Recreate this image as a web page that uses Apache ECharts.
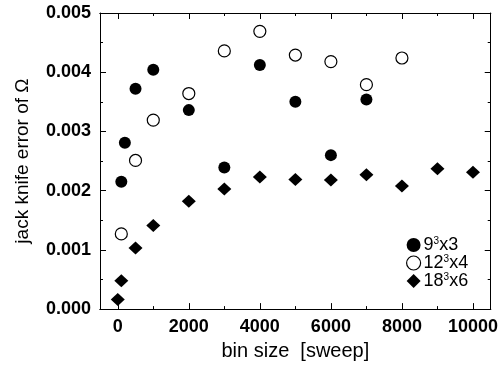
<!DOCTYPE html>
<html><head><meta charset="utf-8">
<script src="https://cdn.jsdelivr.net/npm/echarts@6/dist/echarts.min.js"></script>
<style>html,body{margin:0;padding:0;background:#fff}#c{width:501px;height:366px}</style>
</head><body><div id="c"></div>
<script>
// bin sizes (sweeps)
const x9 = [100, 200, 500, 1000, 2000, 3000, 4000, 5000, 6000, 7000];
const y9 = [0.00215, 0.00281, 0.00372, 0.00404, 0.00336, 0.00239, 0.00412, 0.00350, 0.00260, 0.00354];
const x12 = [100, 500, 1000, 2000, 3000, 4000, 5000, 6000, 7000, 8000];
const y12 = [0.00127, 0.00251, 0.00319, 0.00364, 0.00436, 0.00469, 0.00429, 0.00418, 0.00379, 0.00424];
const x18 = [0, 100, 500, 1000, 2000, 3000, 4000, 5000, 6000, 7000, 8000, 9000, 10000];
const y18 = [0.00016, 0.00048, 0.00103, 0.00141, 0.00182, 0.00203, 0.00223, 0.00219, 0.00218, 0.00227, 0.00208, 0.00237, 0.00231];
const xTicks = [0, 2000, 4000, 6000, 8000, 10000];
const xMinor = [1000, 3000, 5000, 7000, 9000];
const names = ['9^3x3', '12^3x4', '18^3x6'];

const zip = (a, b) => a.map((v, i) => [v, b[i]]);
const font = 'Liberation Sans, Arial, sans-serif';
const chart = echarts.init(document.getElementById('c'));
const baseX = {type: 'value', min: -500, max: 10500, gridIndex: 0, splitLine: {show: false},
  axisLine: {show: true, onZero: false, lineStyle: {color: '#000', width: 1}}};
const baseY = {type: 'value', min: 0, max: 0.005, interval: 0.001, splitLine: {show: false},
  axisLine: {show: true, onZero: false, lineStyle: {color: '#000'}},
  axisTick: {inside: true, length: 6, lineStyle: {color: '#000'}},
  minorTick: {show: true, splitNumber: 2, length: 3, lineStyle: {color: '#000'}}};
chart.setOption({
  animation: false,
  grid: {left: 100, right: 4, top: 13, bottom: 52},
  xAxis: [
    Object.assign({}, baseX, {position: 'bottom', name: 'bin size  [sweep]', nameLocation: 'middle', nameGap: 30,
      nameTextStyle: {fontFamily: font, fontSize: 20, color: '#000'},
      axisTick: {inside: true, length: 6, customValues: xTicks, lineStyle: {color: '#000'}},
      axisLabel: {customValues: xTicks, margin: 9, fontFamily: font, fontSize: 18, fontWeight: 'bold', color: '#000',
        formatter: v => String(v)}}),
    Object.assign({}, baseX, {position: 'bottom', axisTick: {inside: true, length: 3, customValues: xMinor, lineStyle: {color: '#000'}},
      axisLabel: {show: false}}),
    Object.assign({}, baseX, {position: 'top', axisTick: {inside: true, length: 6, customValues: xTicks, lineStyle: {color: '#000'}},
      axisLabel: {show: false}}),
    Object.assign({}, baseX, {position: 'top', axisTick: {inside: true, length: 3, customValues: xMinor, lineStyle: {color: '#000'}},
      axisLabel: {show: false}})
  ],
  yAxis: [
    Object.assign({}, baseY, {position: 'left',
      name: 'jack knife error of Ω', nameLocation: 'middle', nameGap: 68,
      nameTextStyle: {fontFamily: font, fontSize: 19, color: '#000'},
      axisLabel: {margin: 9, fontFamily: font, fontSize: 18, fontWeight: 'bold', color: '#000',
        formatter: v => v.toFixed(3)}}),
    Object.assign({}, baseY, {position: 'right', axisLabel: {show: false}})
  ],
  legend: {orient: 'vertical', left: 401, top: 231, itemGap: 0, itemWidth: 14, itemHeight: 14,
    data: [
      {name: names[0], icon: 'circle', itemStyle: {color: '#000'}},
      {name: names[1], icon: 'circle', itemStyle: {color: '#fff', borderColor: '#000', borderWidth: 1.2}},
      {name: names[2], icon: 'diamond', itemStyle: {color: '#000'}}],
    formatter: n => { const p = n.split('^'); return p[0] + '{s|' + p[1].charAt(0) + '}' + p[1].slice(1); },
    textStyle: {fontFamily: font, fontSize: 18, lineHeight: 18, color: '#000', padding: [0, 0, 0, -2],
      rich: {s: {fontFamily: font, fontSize: 10, verticalAlign: 'top', lineHeight: 10, padding: [0, 0, 8, 0], color: '#000'}}}},
  series: [
    {name: names[0], type: 'scatter', data: zip(x9, y9), symbol: 'circle', symbolSize: 12,
      itemStyle: {color: '#000', opacity: 1}},
    {name: names[1], type: 'scatter', data: zip(x12, y12), symbol: 'circle', symbolSize: 12,
      itemStyle: {color: '#fff', borderColor: '#000', borderWidth: 1.2, opacity: 1}},
    {name: names[2], type: 'scatter', data: zip(x18, y18), symbol: 'diamond', symbolSize: [14, 13],
      itemStyle: {color: '#000', opacity: 1}}
  ]
});
</script></body></html>
